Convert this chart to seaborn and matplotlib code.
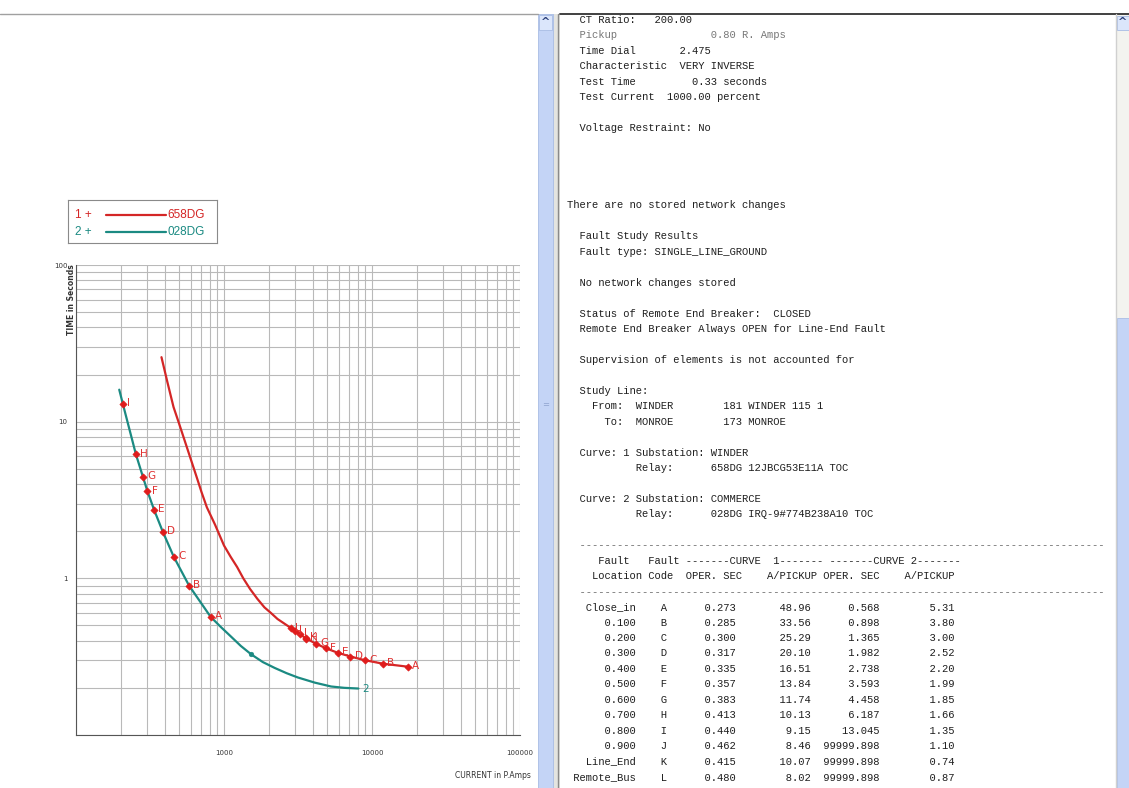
import numpy as np
import pandas as pd
import seaborn as sns
import matplotlib.pyplot as plt
from matplotlib.patches import Rectangle
from matplotlib.lines import Line2D
from matplotlib.ticker import LogLocator, NullFormatter, FixedLocator, FixedFormatter

# curve 1 (658DG): primary amps / seconds
c1_amps = [378, 415, 456, 494, 533, 650, 705, 766, 870, 1000, 1110, 1227, 1350, 1500,
           1680, 1875, 2080, 2300, 2850, 3000, 3250, 3600, 4170, 4910, 5860, 7140,
           8980, 11910, 17380]
c1_secs = [25.8, 17.8, 12.4, 9.9, 7.96, 4.5, 3.55, 2.84, 2.2, 1.62, 1.37, 1.18, 1.0, 0.855,
           0.74, 0.653, 0.6, 0.55, 0.48, 0.462, 0.44, 0.413, 0.383, 0.357, 0.335, 0.317,
           0.300, 0.285, 0.273]

# curve 2 (028DG)
c2_amps = [196, 207, 254, 283, 304, 337, 386, 459, 581, 812, 950, 1100, 1300, 1528, 1830,
           2200, 2650, 3150, 4100, 5290, 6500, 8090]
c2_secs = [16.0, 13.045, 6.187, 4.458, 3.593, 2.738, 1.982, 1.365, 0.898, 0.568, 0.49, 0.43,
           0.37, 0.327, 0.292, 0.268, 0.248, 0.233, 0.216, 0.204, 0.2, 0.198]
c2_dot_amps = [1528]
c2_dot_secs = [0.327]

# fault study table
fault_loc = ['Close_in', '0.100', '0.200', '0.300', '0.400', '0.500', '0.600',
             '0.700', '0.800', '0.900', 'Line_End', 'Remote_Bus']
fault_code = ['A', 'B', 'C', 'D', 'E', 'F', 'G', 'H', 'I', 'J', 'K', 'L']
c1_oper = [0.273, 0.285, 0.300, 0.317, 0.335, 0.357, 0.383, 0.413, 0.440, 0.462, 0.415, 0.480]
c1_pickup = [48.96, 33.56, 25.29, 20.10, 16.51, 13.84, 11.74, 10.13, 9.15, 8.46, 10.07, 8.02]
c2_oper = [0.568, 0.898, 1.365, 1.982, 2.738, 3.593, 4.458, 6.187, 13.045,
           99999.898, 99999.898, 99999.898]
c2_pickup = [5.31, 3.80, 3.00, 2.52, 2.20, 1.99, 1.85, 1.66, 1.35, 1.10, 0.74, 0.87]

# where the coded points sit on the chart (amps)
c1_pt_amps = [17380, 11910, 8980, 7140, 5860, 4910, 4170, 3600, 3250, 3000, 3570, 2850]
c2_pt_amps = [812, 581, 459, 386, 337, 304, 283, 254, 207]

RED = '#d42626'
TEAL = '#1b8a82'
W, H = 1129, 788


def fx(px):
    return px / W


def fy(py):
    return 1 - py / H


sns.set_style("white")
plt.rcParams['font.family'] = ['DejaVu Sans']

fig = plt.figure(figsize=(11.29, 7.88), dpi=100)
fig.patch.set_facecolor('white')

# ---- chart ----
ax = fig.add_axes([fx(76), fy(735), 444 / W, 470 / H])
d1 = pd.DataFrame({'amps': c1_amps, 'secs': c1_secs})
d2 = pd.DataFrame({'amps': c2_amps, 'secs': c2_secs})
sns.lineplot(data=d1, x='amps', y='secs', ax=ax, color=RED, lw=1.6, estimator=None, sort=False, zorder=3)
sns.lineplot(data=d2, x='amps', y='secs', ax=ax, color=TEAL, lw=1.6, estimator=None, sort=False, zorder=3)
ax.set_xscale('log')
ax.set_yscale('log')
ax.set_xlim(100, 100000)
ax.set_ylim(0.1, 100)

p1 = pd.DataFrame({'amps': c1_pt_amps, 'secs': c1_oper, 'code': fault_code})
n2 = len(c2_pt_amps)
p2 = pd.DataFrame({'amps': c2_pt_amps, 'secs': c2_oper[:n2], 'code': fault_code[:n2]})
for p in (p1, p2):
    sns.scatterplot(data=p, x='amps', y='secs', ax=ax, marker='D', s=14, color='#e01c1c',
                    edgecolor='#e01c1c', linewidth=0.4, zorder=5)
    for a, s, c in zip(p['amps'], p['secs'], p['code']):
        ax.annotate(c, (a, s), xytext=(3, 0.5), textcoords='offset points', va='center',
                    ha='left', color='#e03030', fontsize=7.5, zorder=6)
sns.scatterplot(x=c2_dot_amps, y=c2_dot_secs, ax=ax, marker='o', s=12, color=TEAL,
                edgecolor=TEAL, zorder=5)
ax.annotate('2', (c2_amps[-1], c2_secs[-1]), xytext=(3, 0), textcoords='offset points',
            va='center', color=TEAL, fontsize=7.5)

ax.xaxis.set_major_locator(FixedLocator([100, 1000, 10000, 100000]))
ax.xaxis.set_major_formatter(FixedFormatter(['', '1000', '10000', '100000']))
ax.yaxis.set_major_locator(FixedLocator([0.1, 1, 10, 100]))
ax.yaxis.set_major_formatter(FixedFormatter(['', '1', '10', '100']))
for axis in (ax.xaxis, ax.yaxis):
    axis.set_minor_locator(LogLocator(base=10, subs=np.arange(2, 10)))
    axis.set_minor_formatter(NullFormatter())
ax.grid(True, which='both', color='#b9b9b9', lw=0.8)
ax.tick_params(axis='x', which='major', length=4, width=0.8, color='#333', labelsize=5,
               labelcolor='#333', pad=7)
ax.tick_params(axis='y', which='major', length=3, width=0.8, color='#333', labelsize=5,
               labelcolor='#333', pad=3)
ax.tick_params(which='minor', length=0)
for side in ('top', 'right'):
    ax.spines[side].set_visible(False)
for side in ('left', 'bottom'):
    ax.spines[side].set_color('#555')
    ax.spines[side].set_linewidth(0.8)
ax.set_xlabel('')
ax.set_ylabel('')
fig.text(fx(72), fy(264), 'TIME in Seconds', rotation=90, ha='center', va='top',
         fontsize=5.5, fontweight='bold', color='#333')
fig.text(fx(531), fy(775), 'CURRENT in P.Amps', ha='right', va='center', fontsize=5.5, color='#333')

# ---- legend box ----
lg = fig.add_axes([fx(68), fy(243), (217 - 68) / W, (243 - 200) / H])
lg.set_xlim(68, 217)
lg.set_ylim(243, 200)
lg.set_xticks([])
lg.set_yticks([])
for s in lg.spines.values():
    s.set_color('#8a8a8a')
    s.set_linewidth(0.8)
for yy, num, name, col in [(215, '1 +', '658DG', RED), (232, '2 +', '028DG', TEAL)]:
    lg.text(75, yy, num, color=col, fontsize=8.5, va='center', ha='left', family='Liberation Sans')
    lg.plot([106, 166], [yy, yy], color=col, lw=1.6)
    lg.text(167, yy, name, color=col, fontsize=8.5, va='center', ha='left', family='Liberation Sans')

# ---- window chrome ----
fig.add_artist(Line2D([0, fx(538)], [fy(14), fy(14)], color='#a0a0a0', lw=1))
fig.add_artist(Line2D([fx(560), 1], [fy(14), fy(14)], color='#404040', lw=1.4))
fig.add_artist(Rectangle((fx(553), 0), 7 / W, fy(14), color='#e4e4e0', lw=0))
fig.add_artist(Line2D([fx(558), fx(558)], [0, fy(14)], color='#8a8a8a', lw=1))
fig.add_artist(Rectangle((fx(538), 0), 15 / W, fy(14), facecolor='#c4d4f6', edgecolor='#a8bce4', lw=0.6))
fig.add_artist(Rectangle((fx(539), fy(30)), 13 / W, 15 / H, facecolor='#dbe6fb', edgecolor='#a8bce4', lw=0.6))
fig.text(fx(545.5), fy(22), '^', ha='center', va='center', fontsize=8, color='#2a3f7a', fontweight='bold')
fig.text(fx(545.5), fy(405), '=', ha='center', va='center', fontsize=6, color='#8fa4cf')
fig.add_artist(Line2D([fx(1116), fx(1116)], [0, fy(14)], color='#d0d0d0', lw=1))
fig.add_artist(Rectangle((fx(1117), fy(318)), 12 / W, (318 - 14) / H, facecolor='#f3f3ef', lw=0))
fig.add_artist(Rectangle((fx(1117), 0), 12 / W, fy(318), facecolor='#c4d4f6', edgecolor='#a8bce4', lw=0.6))
fig.add_artist(Rectangle((fx(1117), fy(30)), 12 / W, 14 / H, facecolor='#dbe6fb', edgecolor='#a8bce4', lw=0.6))
fig.text(fx(1123), fy(22), '^', ha='center', va='center', fontsize=8, color='#2a3f7a', fontweight='bold')

# ---- report text ----
dashes = '  ' + '-' * 84
header1 = '     Fault   Fault -------CURVE  1------- -------CURVE 2-------'
header2 = '    Location Code  OPER. SEC    A/PICKUP OPER. SEC    A/PICKUP'
rows = []
for i in range(len(fault_loc)):
    rows.append(f"{fault_loc[i]:>11}    {fault_code[i]}{c1_oper[i]:>11.3f}{c1_pickup[i]:>12.2f}"
                f"{c2_oper[i]:>11.3f}{c2_pickup[i]:>12.2f}")

report = [
    "  CT Ratio:   200.00",
    "  Pickup               0.80 R. Amps",
    "  Time Dial       2.475",
    "  Characteristic  VERY INVERSE",
    "  Test Time         0.33 seconds",
    "  Test Current  1000.00 percent",
    "",
    "  Voltage Restraint: No",
    "", "", "", "",
    "There are no stored network changes",
    "",
    "  Fault Study Results",
    "  Fault type: SINGLE_LINE_GROUND",
    "",
    "  No network changes stored",
    "",
    "  Status of Remote End Breaker:  CLOSED",
    "  Remote End Breaker Always OPEN for Line-End Fault",
    "",
    "  Supervision of elements is not accounted for",
    "",
    "  Study Line:",
    "    From:  WINDER        181 WINDER 115 1",
    "      To:  MONROE        173 MONROE",
    "",
    "  Curve: 1 Substation: WINDER",
    "           Relay:      658DG 12JBCG53E11A TOC",
    "",
    "  Curve: 2 Substation: COMMERCE",
    "           Relay:      028DG IRQ-9#774B238A10 TOC",
    "",
    dashes, header1, header2, dashes,
] + rows

for i, line in enumerate(report):
    if not line:
        continue
    col = '#777' if i == 1 else ('#666' if line == dashes else '#1e1e1e')
    fig.text(fx(567), fy(20 + i * 15.45), line, ha='left', va='center', fontsize=7.6,
             family='Liberation Mono', color=col)

fig.savefig('out.png', dpi=100)
